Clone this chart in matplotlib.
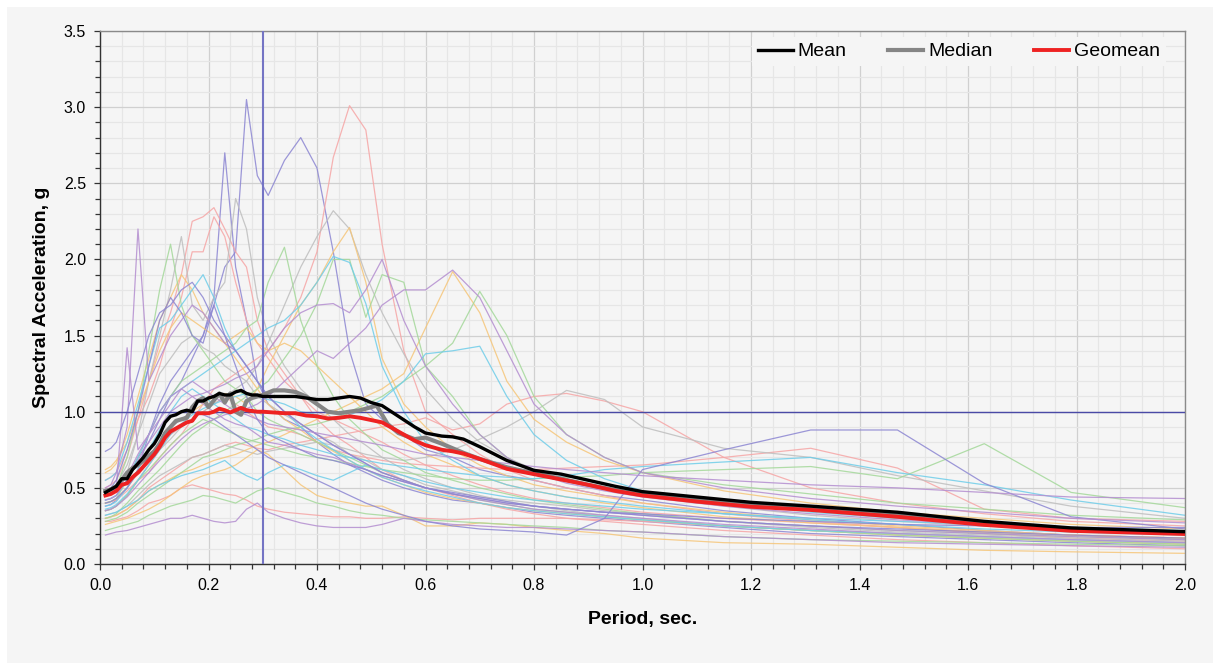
import numpy as np
import matplotlib
matplotlib.use("Agg")
import matplotlib.pyplot as plt
from matplotlib.patches import Rectangle
from matplotlib.ticker import MultipleLocator, FormatStrFormatter

plt.rcParams['font.family'] = ['Liberation Sans', 'DejaVu Sans']

# periods of the individual records
T = [0.01, 0.02, 0.03, 0.05, 0.07, 0.09, 0.11, 0.13, 0.15, 0.17,
     0.19, 0.21, 0.23, 0.25, 0.27, 0.29, 0.31, 0.34, 0.37, 0.40,
     0.43, 0.46, 0.49, 0.52, 0.56, 0.60, 0.65, 0.70, 0.75, 0.80,
     0.86, 0.93, 1.00, 1.15, 1.31, 1.47, 1.63, 1.79, 2.00]

# individual ground motion spectra (g)
rec01 = [0.42,0.43,0.45,0.55,0.70,0.80,0.95,1.10,1.20,1.35,1.50,1.70,1.95,2.05,3.05,2.55,2.42,2.65,2.80,2.60,2.05,1.40,1.05,0.95,0.85,0.75,0.70,0.62,0.58,0.55,0.50,0.45,0.42,0.35,0.30,0.26,0.22,0.19,0.16]
rec02 = [0.38,0.39,0.42,0.50,0.62,0.85,1.05,1.20,1.30,1.40,1.50,1.75,2.70,1.95,1.60,1.20,1.05,0.95,0.90,0.80,0.72,0.65,0.60,0.55,0.50,0.46,0.42,0.40,0.37,0.34,0.32,0.30,0.28,0.24,0.20,0.18,0.16,0.14,0.12]
rec03 = [0.40,0.41,0.42,0.48,0.55,0.60,0.70,0.78,0.85,0.95,1.05,1.15,1.20,1.25,1.30,1.35,1.40,1.55,1.75,2.05,2.67,3.01,2.85,2.10,1.40,1.00,0.85,0.72,0.62,0.55,0.50,0.45,0.40,0.33,0.28,0.24,0.20,0.17,0.15]
rec04 = [0.50,0.52,0.55,0.70,0.95,1.20,1.45,1.65,1.90,2.25,2.28,2.34,2.20,2.05,1.95,1.60,1.40,1.25,1.10,0.95,0.85,0.78,0.70,0.62,0.55,0.50,0.45,0.40,0.36,0.33,0.30,0.28,0.26,0.22,0.19,0.16,0.14,0.12,0.10]
rec05 = [0.55,0.57,0.60,0.75,0.95,1.10,1.30,1.55,1.75,2.05,2.05,2.28,2.15,1.85,1.60,1.45,1.35,1.20,1.10,1.00,0.95,0.90,0.85,0.80,0.72,0.65,0.58,0.52,0.47,0.43,0.40,0.37,0.34,0.30,0.27,0.24,0.21,0.19,0.17]
rec06 = [0.30,0.31,0.32,0.36,0.42,0.50,0.55,0.60,0.65,0.70,0.72,0.75,0.78,0.80,0.78,0.76,0.75,0.78,0.80,0.82,0.84,0.86,0.88,0.90,0.92,0.96,0.88,0.92,1.05,1.10,1.12,1.07,1.00,0.70,0.50,0.40,0.33,0.28,0.25]
rec07 = [0.35,0.36,0.38,0.45,0.55,0.65,0.75,0.85,0.90,0.95,1.00,1.05,1.10,1.05,1.00,0.95,0.90,0.88,0.85,0.80,0.75,0.72,0.70,0.68,0.66,0.65,0.64,0.63,0.62,0.62,0.63,0.64,0.65,0.70,0.76,0.63,0.36,0.30,0.28]
rec08 = [0.28,0.28,0.29,0.31,0.35,0.40,0.42,0.45,0.50,0.52,0.50,0.48,0.46,0.45,0.42,0.38,0.36,0.34,0.33,0.32,0.31,0.31,0.30,0.30,0.31,0.30,0.29,0.30,0.30,0.30,0.30,0.29,0.28,0.25,0.22,0.20,0.18,0.16,0.14]
rec09 = [0.45,0.46,0.48,0.60,0.85,1.20,1.50,1.80,2.15,1.70,1.60,1.75,1.85,2.40,2.20,1.75,1.50,1.30,1.15,1.05,0.95,0.85,0.78,0.70,0.62,0.56,0.50,0.45,0.41,0.38,0.35,0.32,0.30,0.25,0.22,0.19,0.17,0.15,0.13]
rec10 = [0.35,0.36,0.38,0.45,0.55,0.65,0.75,0.82,0.90,0.95,1.00,1.05,1.10,1.15,1.20,1.30,1.45,1.70,1.95,2.15,2.32,2.20,1.90,1.65,1.38,1.15,0.95,0.80,0.70,0.62,0.55,0.50,0.45,0.38,0.32,0.28,0.25,0.22,0.20]
rec11 = [0.32,0.33,0.34,0.38,0.45,0.52,0.58,0.62,0.66,0.70,0.72,0.75,0.78,0.76,0.74,0.72,0.74,0.76,0.78,0.80,0.78,0.75,0.72,0.70,0.68,0.70,0.75,0.82,0.90,1.00,1.14,1.08,0.90,0.76,0.70,0.58,0.48,0.38,0.30]
rec12 = [0.48,0.50,0.52,0.65,0.85,1.05,1.25,1.35,1.45,1.50,1.42,1.38,1.30,1.25,1.20,1.10,1.05,0.98,0.92,0.85,0.80,0.72,0.68,0.62,0.58,0.52,0.48,0.44,0.42,0.40,0.38,0.35,0.33,0.28,0.24,0.21,0.19,0.17,0.15]
rec13 = [0.40,0.41,0.43,0.50,0.60,0.70,0.80,0.90,0.95,1.00,1.05,1.10,1.12,1.10,1.05,1.15,1.30,1.50,1.70,1.85,2.05,2.21,1.85,1.35,1.05,0.90,0.75,0.65,0.58,0.52,0.48,0.44,0.40,0.34,0.29,0.25,0.22,0.19,0.17]
rec14 = [0.30,0.31,0.32,0.36,0.42,0.48,0.52,0.56,0.60,0.62,0.65,0.68,0.70,0.72,0.75,0.78,0.80,0.85,0.90,0.95,1.00,1.05,1.10,1.15,1.25,1.55,1.92,1.65,1.20,0.95,0.80,0.68,0.60,0.48,0.40,0.34,0.30,0.26,0.23]
rec15 = [0.60,0.62,0.66,0.85,1.10,1.35,1.60,1.75,1.90,1.80,1.65,1.55,1.45,1.35,1.25,1.15,1.05,0.95,0.88,0.80,0.74,0.68,0.62,0.57,0.52,0.47,0.43,0.40,0.37,0.35,0.33,0.31,0.29,0.25,0.22,0.19,0.17,0.15,0.13]
rec16 = [0.26,0.27,0.28,0.30,0.33,0.36,0.40,0.45,0.50,0.55,0.58,0.60,0.62,0.65,0.70,0.75,0.72,0.62,0.52,0.45,0.42,0.40,0.38,0.38,0.32,0.25,0.25,0.27,0.26,0.24,0.22,0.20,0.17,0.14,0.13,0.11,0.09,0.08,0.07]
rec17 = [0.62,0.64,0.68,0.80,1.00,1.20,1.40,1.55,1.65,1.60,1.55,1.50,1.45,1.50,1.55,1.45,1.40,1.45,1.40,1.30,1.20,1.10,1.00,0.90,0.80,0.72,0.65,0.58,0.52,0.48,0.44,0.40,0.37,0.31,0.27,0.24,0.21,0.19,0.17]
rec18 = [0.30,0.31,0.33,0.40,0.48,0.55,0.62,0.70,0.78,0.85,0.90,0.95,1.00,1.05,1.10,1.15,1.20,1.35,1.50,1.71,2.00,2.00,1.62,1.90,1.85,1.30,1.10,0.85,0.70,0.60,0.55,0.50,0.46,0.40,0.35,0.30,0.26,0.23,0.21]
rec19 = [0.28,0.29,0.30,0.34,0.40,0.45,0.50,0.55,0.60,0.65,0.70,0.72,0.75,0.78,0.80,0.82,0.85,0.88,0.90,0.92,0.95,1.00,1.05,1.10,1.20,1.30,1.45,1.79,1.50,1.10,0.85,0.70,0.60,0.52,0.46,0.40,0.36,0.32,0.29]
rec20 = [0.35,0.36,0.38,0.45,0.55,0.62,0.70,0.78,0.85,0.90,0.95,0.92,0.88,0.85,0.82,0.80,0.78,0.75,0.72,0.70,0.68,0.66,0.64,0.62,0.60,0.58,0.56,0.55,0.55,0.56,0.57,0.58,0.60,0.62,0.64,0.56,0.79,0.47,0.37]
rec21 = [0.45,0.47,0.50,0.70,1.00,1.40,1.80,2.10,1.70,1.50,1.40,1.30,1.20,1.15,1.10,1.00,0.95,0.90,0.85,0.80,0.75,0.70,0.65,0.60,0.55,0.50,0.46,0.42,0.39,0.36,0.34,0.31,0.29,0.25,0.22,0.19,0.17,0.15,0.13]
rec22 = [0.22,0.23,0.24,0.26,0.28,0.32,0.35,0.38,0.40,0.42,0.45,0.44,0.42,0.40,0.44,0.48,0.50,0.47,0.44,0.40,0.38,0.35,0.33,0.32,0.30,0.29,0.28,0.27,0.26,0.25,0.24,0.22,0.21,0.18,0.16,0.15,0.14,0.13,0.12]
rec23 = [0.40,0.41,0.43,0.55,0.70,0.85,1.00,1.10,1.20,1.25,1.30,1.35,1.40,1.45,1.55,1.60,1.85,2.08,1.60,1.30,1.10,0.95,0.85,0.75,0.68,0.60,0.55,0.50,0.46,0.42,0.39,0.36,0.33,0.28,0.25,0.22,0.20,0.18,0.16]
rec24 = [0.42,0.43,0.45,0.55,0.70,0.85,1.00,1.10,1.15,1.20,1.25,1.30,1.35,1.40,1.45,1.50,1.55,1.60,1.70,1.85,2.02,1.98,1.71,1.30,1.00,0.80,0.68,0.58,0.52,0.48,0.44,0.41,0.38,0.33,0.29,0.26,0.23,0.21,0.19]
rec25 = [0.38,0.39,0.41,0.50,0.62,0.75,0.88,1.00,1.10,1.15,1.10,1.05,1.00,0.95,0.90,0.88,0.85,0.82,0.78,0.75,0.72,0.70,0.68,0.66,0.64,0.62,0.60,0.58,0.57,0.56,0.58,0.62,0.64,0.67,0.70,0.60,0.52,0.42,0.32]
rec26 = [0.55,0.57,0.60,0.80,1.05,1.30,1.55,1.60,1.70,1.80,1.90,1.75,1.55,1.40,1.30,1.20,1.10,1.00,0.90,0.82,0.75,0.68,0.62,0.57,0.52,0.48,0.44,0.40,0.37,0.35,0.33,0.31,0.29,0.25,0.22,0.20,0.18,0.16,0.14]
rec27 = [0.32,0.33,0.34,0.38,0.42,0.48,0.52,0.55,0.58,0.60,0.62,0.65,0.68,0.62,0.58,0.55,0.60,0.65,0.62,0.58,0.55,0.60,0.65,0.62,0.58,0.54,0.50,0.47,0.44,0.42,0.40,0.38,0.36,0.33,0.30,0.28,0.26,0.24,0.22]
rec28 = [0.36,0.37,0.39,0.46,0.55,0.65,0.75,0.85,0.92,0.98,1.02,1.05,1.08,1.10,1.12,1.10,1.08,1.05,1.00,0.98,0.95,0.98,1.02,1.08,1.20,1.38,1.40,1.43,1.10,0.85,0.68,0.56,0.48,0.40,0.34,0.30,0.27,0.24,0.21]
rec29 = [0.50,0.52,0.60,0.90,2.20,1.20,1.35,1.50,1.60,1.70,1.65,1.55,1.45,1.40,1.30,1.20,1.10,1.00,0.92,0.85,0.78,0.72,0.66,0.60,0.55,0.50,0.46,0.42,0.39,0.36,0.34,0.32,0.30,0.26,0.23,0.20,0.18,0.16,0.14]
rec30 = [0.45,0.46,0.50,1.42,0.75,0.85,0.95,1.05,1.15,1.10,1.05,1.00,0.95,0.92,0.90,0.85,0.80,0.78,0.75,0.72,0.70,0.66,0.62,0.58,0.54,0.50,0.46,0.43,0.40,0.38,0.36,0.34,0.32,0.28,0.25,0.22,0.20,0.18,0.16]
rec31 = [0.19,0.20,0.21,0.22,0.24,0.26,0.28,0.30,0.30,0.32,0.30,0.28,0.27,0.28,0.36,0.40,0.34,0.30,0.27,0.25,0.24,0.24,0.24,0.26,0.30,0.28,0.26,0.25,0.24,0.24,0.23,0.22,0.21,0.18,0.16,0.14,0.13,0.12,0.11]
rec32 = [0.40,0.41,0.43,0.50,0.60,0.70,0.80,0.90,0.95,1.00,0.98,0.95,0.90,0.85,0.80,0.75,0.70,0.65,0.60,0.55,0.50,0.45,0.40,0.36,0.32,0.28,0.25,0.23,0.22,0.21,0.19,0.30,0.62,0.75,0.88,0.88,0.53,0.31,0.23]
rec33 = [0.35,0.36,0.38,0.44,0.52,0.60,0.68,0.75,0.82,0.88,0.92,0.95,0.98,1.00,1.02,1.05,1.10,1.20,1.30,1.40,1.35,1.45,1.55,1.70,1.80,1.80,1.93,1.75,1.40,1.05,0.85,0.70,0.60,0.50,0.43,0.38,0.34,0.30,0.27]
rec34 = [0.42,0.43,0.45,0.55,0.68,0.80,0.90,1.00,1.05,1.10,1.12,1.15,1.18,1.22,1.25,1.30,1.40,1.55,1.65,1.70,1.71,1.65,1.80,2.00,1.60,1.30,1.05,0.85,0.70,0.60,0.53,0.48,0.44,0.38,0.33,0.29,0.26,0.23,0.21]
rec35 = [0.74,0.76,0.80,1.00,1.25,1.50,1.65,1.70,1.80,1.85,1.75,1.60,1.50,1.40,1.30,1.20,1.10,1.00,0.92,0.85,0.78,0.72,0.66,0.60,0.55,0.50,0.46,0.43,0.40,0.38,0.36,0.34,0.33,0.30,0.28,0.26,0.25,0.24,0.24]
rec36 = [0.45,0.46,0.48,0.58,0.72,0.85,1.00,1.10,1.15,1.20,1.15,1.10,1.05,1.00,0.98,0.95,0.92,0.90,0.88,0.86,0.84,0.82,0.80,0.78,0.75,0.72,0.70,0.68,0.66,0.64,0.62,0.60,0.58,0.55,0.52,0.50,0.47,0.44,0.43]
rec37 = [0.48,0.50,0.55,0.75,1.00,1.30,1.60,1.75,1.65,1.50,1.45,1.70,1.50,1.30,1.10,0.95,0.85,0.80,0.75,0.70,0.68,0.65,0.62,0.58,0.54,0.50,0.47,0.44,0.41,0.38,0.36,0.34,0.32,0.28,0.25,0.23,0.21,0.19,0.17]

records = [rec01, rec02, rec03, rec04, rec05, rec06, rec07, rec08, rec09, rec10,
           rec11, rec12, rec13, rec14, rec15, rec16, rec17, rec18, rec19, rec20,
           rec21, rec22, rec23, rec24, rec25, rec26, rec27, rec28, rec29, rec30,
           rec31, rec32, rec33, rec34, rec35, rec36, rec37]

# statistics
T_stat = [0.01, 0.02, 0.03, 0.04, 0.05, 0.06, 0.07, 0.08, 0.09, 0.10,
          0.11, 0.12, 0.13, 0.14, 0.15, 0.16, 0.17, 0.18, 0.19, 0.20,
          0.21, 0.22, 0.23, 0.24, 0.25, 0.26, 0.27, 0.28, 0.29, 0.30,
          0.32, 0.34, 0.36, 0.38, 0.40, 0.42, 0.44, 0.46, 0.48, 0.50,
          0.52, 0.55, 0.58, 0.60, 0.63, 0.65, 0.67, 0.70, 0.75, 0.80,
          0.85, 0.90, 0.95, 1.00, 1.10, 1.20, 1.31, 1.47, 1.63, 1.79, 2.00]
mean = [0.47, 0.49, 0.51, 0.56, 0.56, 0.62, 0.66, 0.70, 0.75, 0.79,
        0.85, 0.93, 0.97, 0.98, 1.00, 1.01, 1.00, 1.07, 1.07, 1.09,
        1.10, 1.12, 1.11, 1.11, 1.13, 1.14, 1.12, 1.11, 1.11, 1.10,
        1.10, 1.10, 1.10, 1.09, 1.08, 1.08, 1.09, 1.10, 1.09, 1.06,
        1.04, 0.97, 0.90, 0.86, 0.84, 0.835, 0.82, 0.77, 0.68, 0.615,
        0.59, 0.55, 0.51, 0.475, 0.44, 0.405, 0.38, 0.34, 0.28, 0.237, 0.212]
geomean = [0.45, 0.46, 0.48, 0.52, 0.53, 0.57, 0.60, 0.64, 0.68, 0.72,
           0.77, 0.83, 0.87, 0.89, 0.91, 0.93, 0.94, 0.99, 0.99, 0.99,
           1.00, 1.02, 1.01, 0.995, 1.01, 1.025, 1.01, 1.005, 1.00, 1.00,
           0.995, 0.99, 0.99, 0.975, 0.97, 0.955, 0.96, 0.97, 0.96, 0.945,
           0.93, 0.87, 0.81, 0.78, 0.75, 0.74, 0.725, 0.69, 0.625, 0.59,
           0.555, 0.52, 0.48, 0.45, 0.41, 0.376, 0.355, 0.31, 0.257, 0.218, 0.197]

T_median = [0.01, 0.02, 0.03, 0.04, 0.05, 0.06, 0.07, 0.08, 0.09, 0.10,
            0.11, 0.12, 0.13, 0.14, 0.15, 0.16, 0.17, 0.18, 0.19, 0.20,
            0.21, 0.22, 0.23, 0.24, 0.25, 0.26, 0.27, 0.28, 0.29, 0.30,
            0.32, 0.34, 0.36, 0.38, 0.40, 0.42, 0.44, 0.46, 0.48, 0.50,
            0.51, 0.53, 0.55, 0.58, 0.60, 0.63, 0.65, 0.67, 0.70, 0.75,
            0.80, 0.85, 0.90, 0.95, 1.00, 1.10, 1.20, 1.31, 1.47, 1.63, 1.79, 2.00]
median = [0.48, 0.49, 0.51, 0.55, 0.60, 0.63, 0.65, 0.68, 0.71, 0.74,
          0.79, 0.86, 0.90, 0.94, 0.95, 0.96, 1.03, 1.07, 1.09, 1.03,
          1.075, 1.12, 1.06, 1.12, 1.00, 0.98, 1.07, 1.09, 1.10, 1.11,
          1.14, 1.14, 1.13, 1.10, 1.05, 1.00, 0.99, 1.00, 1.01, 1.03,
          1.04, 0.92, 0.86, 0.82, 0.83, 0.79, 0.76, 0.73, 0.69, 0.635,
          0.595, 0.56, 0.52, 0.485, 0.46, 0.42, 0.39, 0.36, 0.32, 0.265, 0.225, 0.205]

lav = '#8c86d2'
pur = '#b48ed0'
pnk = '#f6a6a6'
gry = '#bebebe'
org = '#f5c67a'
blu = '#6fcde9'
grn = '#a4d89a'
rec_colors = [lav, lav, pnk, pnk, pnk, pnk, pnk, pnk, gry, gry,
              gry, gry, org, org, org, org, org, grn, grn, grn,
              grn, grn, grn, blu, blu, blu, blu, blu, pur, pur,
              pur, lav, pur, pur, lav, pur, lav]

fig = plt.figure(figsize=(12.21, 6.63), dpi=100)
fig.patch.set_facecolor('white')
fig.patches.append(Rectangle((7/1221, 0), 1206/1221, 656/663, transform=fig.transFigure,
                             facecolor='#f5f5f5', edgecolor='none', zorder=-10))

ax = fig.add_axes([100/1221, 1 - 564/663, 1085/1221, 533/663])
ax.set_facecolor('#f5f5f5')

for r, c in zip(records, rec_colors):
    ax.plot(T, r, color=c, lw=0.9, alpha=0.85, zorder=2)

ax.axvline(0.3, color='#7474c4', lw=1.5, zorder=3)
ax.axhline(1.0, color='#4a4aa6', lw=1.0, zorder=3)

ax.plot(T_median, median, color='#858585', lw=3.0, label='Median', zorder=4)
ax.plot(T_stat, geomean, color='#ee2222', lw=2.8, label='Geomean', zorder=5)
ax.plot(T_stat, mean, color='black', lw=2.4, label='Mean', zorder=6)

ax.set_xlim(0, 2.0)
ax.set_ylim(0, 3.5)
ax.xaxis.set_major_locator(MultipleLocator(0.2))
ax.xaxis.set_minor_locator(MultipleLocator(0.04))
ax.yaxis.set_major_locator(MultipleLocator(0.5))
ax.yaxis.set_minor_locator(MultipleLocator(0.1))
ax.xaxis.set_major_formatter(FormatStrFormatter('%.1f'))
ax.yaxis.set_major_formatter(FormatStrFormatter('%.1f'))

ax.grid(which='major', color='#d0d0d0', lw=0.9)
ax.grid(which='minor', color='#e6e6e6', lw=0.9)
ax.set_axisbelow(True)

ax.tick_params(which='major', direction='out', length=4, width=0.9, color='#333333',
               labelsize=11.5, pad=6)
ax.tick_params(which='minor', direction='out', length=3.5, width=0.9, color='#333333')

for s in ['left', 'bottom']:
    ax.spines[s].set_color('#333333')
    ax.spines[s].set_linewidth(1.0)
for s in ['top', 'right']:
    ax.spines[s].set_color('#8a8a8a')
    ax.spines[s].set_linewidth(1.0)

ax.set_xlabel('Period, sec.', fontsize=14, fontweight='bold', labelpad=13)
ax.set_ylabel('Spectral Acceleration, g', fontsize=14, fontweight='bold', labelpad=10)

h, l = ax.get_legend_handles_labels()
order = [2, 0, 1]
leg = ax.legend([h[i] for i in order], [l[i] for i in order], loc='upper right',
                bbox_to_anchor=(0.9825, 0.9887), ncol=3,
                fontsize=14, frameon=True, facecolor='#f5f5f5', edgecolor='none',
                framealpha=1, fancybox=False, handlelength=1.8, handletextpad=0.25,
                columnspacing=2.15, borderaxespad=0.0, borderpad=0.3)

fig.savefig('out.png', dpi=100, facecolor=fig.get_facecolor())
